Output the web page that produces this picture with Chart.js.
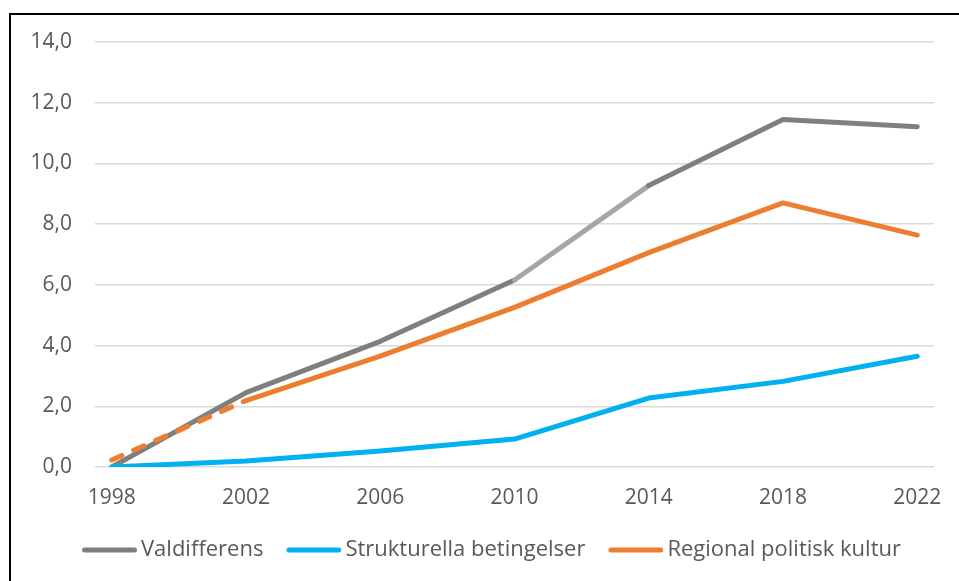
<!DOCTYPE html>
<html>
<head>
<meta charset="utf-8">
<script src="https://cdn.jsdelivr.net/npm/chart.js@4.4.1/dist/chart.umd.min.js"></script>
<style>
  html, body { margin: 0; padding: 0; background: #fff; }
  #wrap { position: relative; width: 959px; height: 581px; overflow: hidden; }
  #frame { position: absolute; left: 9px; top: 13px; width: 980px; height: 600px; border: 2px solid #000; box-sizing: border-box; pointer-events: none; }
  canvas { position: absolute; left: 0; top: 0; }
</style>
</head>
<body>
<div id="wrap">
  <canvas id="c" width="959" height="581"></canvas>
  <div id="frame"></div>
</div>
<script>
const years = [1998, 2002, 2006, 2010, 2014, 2018, 2022];
const yTicks = [0, 2, 4, 6, 8, 10, 12, 14];
const seriesNames = ['Valdifferens', 'Strukturella betingelser', 'Regional politisk kultur'];
const valdifferens = [0.0, 2.45, 4.14, 6.16, 9.27, 11.45, 11.21];
const strukturella = [0.0, 0.2, 0.53, 0.92, 2.27, 2.82, 3.65];
const regional = [0.23, 2.19, 3.65, 5.26, 7.06, 8.70, 7.64];

const toPoints = arr => arr.map((v, i) => ({ x: years[i], y: v }));
const FONT = "'Open Sans', sans-serif";
const TXT = '#595959';

// legend line swatch: 64px wide image, line drawn in its right part
function swatch(color) {
  const c = document.createElement('canvas');
  c.width = 64; c.height = 8;
  const g = c.getContext('2d');
  g.strokeStyle = color; g.lineWidth = 5; g.lineCap = 'round';
  g.beginPath(); g.moveTo(11.5, 4); g.lineTo(61.5, 4); g.stroke();
  return c;
}

const legendShift = {
  id: 'legendShift',
  beforeDraw(chart) {
    if (chart.legend) { chart.legend.left = 59; }
  }
};

new Chart(document.getElementById('c'), {
  type: 'line',
  data: {
    datasets: [
      {
        label: seriesNames[0],
        data: toPoints(valdifferens),
        borderColor: '#7f7f7f',
        borderWidth: 5,
        borderCapStyle: 'round',
        borderJoinStyle: 'round',
        pointRadius: 0,
        order: 2,
        segment: {
          borderColor: ctx => ctx.p0DataIndex === 3 ? '#a6a6a6' : '#7f7f7f'
        }
      },
      {
        label: seriesNames[1],
        data: toPoints(strukturella),
        borderColor: '#00b0f0',
        borderWidth: 5,
        borderCapStyle: 'round',
        borderJoinStyle: 'round',
        pointRadius: 0,
        order: 1
      },
      {
        label: seriesNames[2],
        data: toPoints(regional),
        borderColor: '#ed7d31',
        borderWidth: 5,
        borderCapStyle: 'round',
        borderJoinStyle: 'round',
        pointRadius: 0,
        order: 0,
        segment: {
          borderDash: ctx => ctx.p0DataIndex === 0 ? [11, 13] : undefined
        }
      }
    ]
  },
  options: {
    responsive: false,
    animation: false,
    layout: { padding: { left: 0, right: 25, top: 42, bottom: 10 } },
    scales: {
      x: {
        type: 'linear',
        min: 1997.5,
        max: 2022.5,
        afterBuildTicks: scale => { scale.ticks = years.map(v => ({ value: v })); },
        afterFit: scale => { scale.height = 51; },
        grid: { display: false },
        border: { display: false },
        ticks: {
          autoSkip: false,
          maxRotation: 0,
          padding: 10,
          color: TXT,
          font: { family: FONT, size: 21 },
          callback: v => String(v)
        }
      },
      y: {
        min: 0,
        max: 14,
        afterBuildTicks: scale => { scale.ticks = yTicks.map(v => ({ value: v })); },
        afterFit: scale => { scale.width = 95; },
        border: { display: false },
        grid: { color: '#d9d9d9', lineWidth: 1.5, drawTicks: false },
        ticks: {
          padding: 23,
          color: TXT,
          font: { family: FONT, size: 21 },
          callback: v => v.toFixed(1).replace('.', ',')
        }
      }
    },
    plugins: {
      tooltip: { enabled: false },
      legend: {
        position: 'bottom',
        align: 'start',
        labels: {
          usePointStyle: true,
          pointStyleWidth: 50,
          padding: 21,
          color: TXT,
          font: { family: FONT, size: 22 },
          sort: (a, b) => a.datasetIndex - b.datasetIndex,
          generateLabels: chart => chart.data.datasets.map((ds, i) => ({
            text: ds.label,
            datasetIndex: i,
            strokeStyle: ds.borderColor,
            fillStyle: ds.borderColor,
            lineWidth: 0,
            pointStyle: swatch(ds.borderColor),
            fontColor: TXT,
            hidden: false
          }))
        }
      }
    }
  },
  plugins: [legendShift]
});
</script>
</body>
</html>
